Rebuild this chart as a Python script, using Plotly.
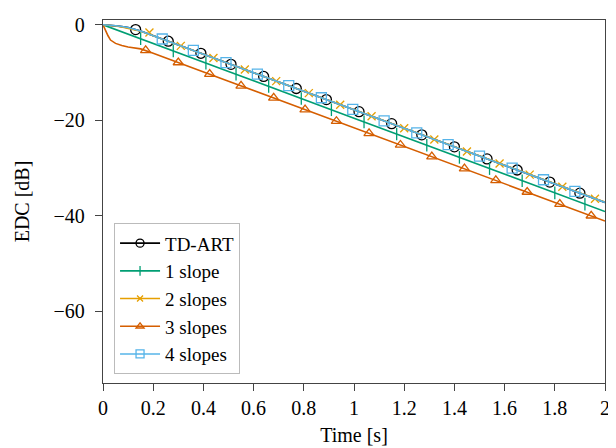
import plotly.graph_objects as go

# ---------------- data ----------------
time = [0, 0.01, 0.02, 0.03, 0.05, 0.075, 0.1, 0.15, 0.2, 0.5, 1.0, 1.5, 2.0]
td_art = [0, -0.02, -0.06, -0.12, -0.22, -0.38, -0.6, -1.3, -2.28, -8.1, -17.8, -27.5, -37.2]
slope1 = [0, -0.2, -0.39, -0.59, -0.98, -1.47, -1.96, -2.93, -3.91, -9.78, -19.55, -29.33, -39.1]
slope2 = [0, -0.02, -0.06, -0.12, -0.25, -0.45, -0.7, -1.35, -2.3, -8.1, -17.8, -27.5, -37.1]
slope3 = [0, -1.2, -2.3, -3.2, -3.9, -4.35, -4.65, -5.05, -5.95, -11.8, -21.55, -31.3, -41.1]
slope4 = [0, -0.01, -0.05, -0.1, -0.2, -0.36, -0.58, -1.28, -2.3, -8.1, -17.8, -27.5, -37.2]

td_art_mk_t = [0.13, 0.26, 0.39, 0.51, 0.64, 0.77, 0.89, 1.02, 1.15, 1.27, 1.40, 1.53, 1.65, 1.78, 1.90]
td_art_mk_y = [-1.0, -3.44, -5.97, -8.29, -10.82, -13.34, -15.67, -18.19, -20.71, -23.04, -25.56, -28.08, -30.41, -32.93, -35.26]
slope1_mk_t = [0.15, 0.28, 0.41, 0.53, 0.66, 0.79, 0.91, 1.04, 1.17, 1.29, 1.42, 1.54, 1.67, 1.80, 1.92]
slope1_mk_y = [-2.93, -5.47, -8.02, -10.36, -12.90, -15.44, -17.79, -20.33, -22.87, -25.22, -27.76, -30.11, -32.65, -35.19, -37.54]
slope2_mk_t = [0.185, 0.31, 0.44, 0.565, 0.69, 0.82, 0.945, 1.07, 1.20, 1.32, 1.45, 1.58, 1.70, 1.83, 1.96]
slope2_mk_y = [-1.6, -4.41, -6.94, -9.36, -11.79, -14.31, -16.73, -19.16, -21.68, -24.01, -26.53, -29.05, -31.38, -33.9, -36.42]
slope3_mk_t = [0.17, 0.30, 0.425, 0.55, 0.68, 0.805, 0.93, 1.06, 1.185, 1.31, 1.44, 1.565, 1.69, 1.82, 1.945]
slope3_mk_y = [-5.37, -7.9, -10.34, -12.78, -15.31, -17.75, -20.19, -22.72, -25.16, -27.6, -30.13, -32.57, -35.01, -37.54, -39.98]
slope4_mk_t = [0.236, 0.36, 0.49, 0.615, 0.74, 0.87, 0.995, 1.12, 1.25, 1.375, 1.50, 1.63, 1.755, 1.88]
slope4_mk_y = [-2.98, -5.38, -7.91, -10.33, -12.76, -15.28, -17.70, -20.13, -22.65, -25.08, -27.5, -30.02, -32.45, -34.87]

x_ticks = [0, 0.2, 0.4, 0.6, 0.8, 1, 1.2, 1.4, 1.6, 1.8, 2]
x_tick_labels = ["0", "0.2", "0.4", "0.6", "0.8", "1", "1.2", "1.4", "1.6", "1.8", "2"]
y_ticks = [0, -20, -40, -60]
y_tick_labels = ["0", "\u221220", "\u221240", "\u221260"]

# ---------------- styles ----------------
FONT = "Liberation Serif, Times New Roman, serif"
series = [
    ("TD-ART", td_art, td_art_mk_t, td_art_mk_y, "#000000", "circle-open", 10),
    ("1 slope", slope1, slope1_mk_t, slope1_mk_y, "#009E73", "line-ns-open", 9),
    ("2 slopes", slope2, slope2_mk_t, slope2_mk_y, "#E69F00", "x-thin-open", 8),
    ("3 slopes", slope3, slope3_mk_t, slope3_mk_y, "#D55E00", "triangle-up-open", 9),
    ("4 slopes", slope4, slope4_mk_t, slope4_mk_y, "#56B4E9", "square-open", 10),
]

fig = go.Figure()
for name, ys, mt, my, color, sym, size in series:
    fig.add_trace(go.Scatter(x=time, y=ys, mode="lines", line=dict(color=color, width=1.6),
                             showlegend=False, hoverinfo="skip"))
    fig.add_trace(go.Scatter(x=mt, y=my, mode="markers",
                             marker=dict(symbol=sym, size=size, color=color,
                                         line=dict(color=color, width=1.3)),
                             showlegend=False))
    fig.add_trace(go.Scatter(x=[None], y=[None], mode="lines+markers", name=name,
                             line=dict(color=color, width=1.6),
                             marker=dict(symbol=sym, size=size - 2, color=color,
                                         line=dict(color=color, width=1.3))))

axis_common = dict(showline=True, linecolor="#444444", linewidth=1.3, mirror=True,
                   ticks="outside", ticklen=7, tickcolor="#444444", tickwidth=1.2,
                   showgrid=False, zeroline=False,
                   tickfont=dict(family=FONT, size=20, color="#000"),
                   title_font=dict(family=FONT, size=20, color="#000"))

fig.update_xaxes(range=[0, 2], tickvals=x_ticks, ticktext=x_tick_labels,
                 title_text="Time [s]", title_standoff=9, **axis_common)
fig.update_yaxes(range=[-75, 1], tickvals=y_ticks, ticktext=y_tick_labels,
                 ticklabelstandoff=6,
                 title_text="EDC [dB]", title_standoff=18, **axis_common)

# page body has an 8px margin: figure is drawn 8px right/down of the window corner
fig.update_layout(
    width=608, height=440,
    margin=dict(l=95, r=7, t=6, b=65),
    paper_bgcolor="white", plot_bgcolor="white",
    font=dict(family=FONT, size=20, color="#000"),
    legend=dict(x=0.022, y=0.024, xanchor="left", yanchor="bottom",
                bgcolor="white", bordercolor="#bbbbbb", borderwidth=1,
                font=dict(family=FONT, size=19, color="#000"),
                tracegroupgap=0, itemwidth=40),
    showlegend=True,
)

fig.write_html("out.html")
